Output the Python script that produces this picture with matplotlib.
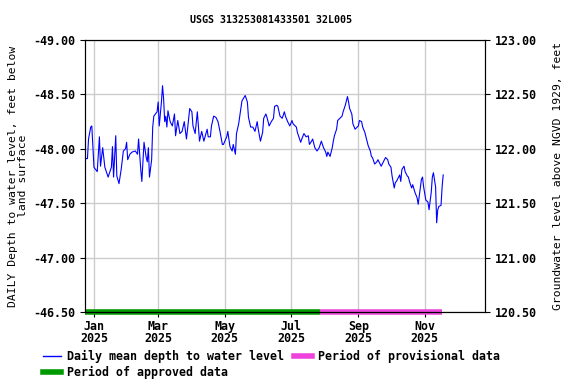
import numpy as np
import matplotlib
matplotlib.use("Agg")
import matplotlib.pyplot as plt
from matplotlib.lines import Line2D

# days after 2025-01-01 and daily mean depth (ft)
days = [-8, -6, -5, -3, -2, 0, 3, 5, 6, 8, 10, 13, 16, 17, 18, 20, 21, 23, 25, 27,
        29, 30, 31, 33, 35, 38, 40, 41, 43, 44, 46, 48, 49, 50, 51, 53, 54, 55, 58, 59,
        60, 62, 63, 64, 65, 66, 67, 68, 70, 72, 74, 75, 77, 79, 81, 83, 85, 86, 88, 90,
        91, 93, 95, 96, 97, 99, 101, 104, 105, 107, 108, 110, 112, 114, 116, 118, 119, 122, 123, 125,
        127, 128, 130, 131, 133, 135, 136, 139, 141, 142, 144, 146, 148, 150, 151, 153, 155, 156, 158, 159,
        161, 163, 165, 166, 168, 169, 171, 173, 175, 176, 178, 180, 182, 183, 186, 187, 189, 190, 191, 193,
        195, 197, 198, 200, 201, 203, 205, 207, 209, 210, 211, 213, 214, 215, 217, 219, 220, 221, 223, 224,
        226, 228, 229, 231, 233, 234, 235, 237, 238, 240, 242, 243, 244, 246, 247, 249, 251, 252, 254, 255,
        256, 258, 260, 261, 262, 264, 266, 268, 270, 271, 273, 274, 276, 277, 278, 279, 281, 282, 283, 285,
        286, 288, 289, 290, 292, 293, 295, 297, 298, 300, 301, 302, 303, 305, 307, 308, 310, 311, 312, 314,
        315, 316, 317, 319, 320, 321]
depth = [-47.91, -47.91, -48.09, -48.20, -48.21, -47.83, -47.79, -48.11, -47.84, -48.01,
         -47.83, -47.74, -47.83, -48.02, -47.74, -48.12, -47.75, -47.68, -47.81, -47.98,
         -48.00, -48.06, -47.90, -47.95, -47.97, -47.98, -47.95, -48.09, -47.81, -47.70,
         -48.06, -47.92, -47.88, -48.01, -47.74, -47.90, -48.20, -48.30, -48.34, -48.43,
         -48.21, -48.43, -48.58, -48.46, -48.25, -48.30, -48.20, -48.35, -48.25, -48.21,
         -48.32, -48.12, -48.26, -48.14, -48.16, -48.25, -48.09, -48.18, -48.37, -48.34,
         -48.21, -48.14, -48.34, -48.20, -48.07, -48.16, -48.07, -48.18, -48.11, -48.11,
         -48.21, -48.30, -48.29, -48.25, -48.15, -48.04, -48.04, -48.11, -48.16, -48.02,
         -47.98, -48.04, -47.95, -48.14, -48.23, -48.37, -48.44, -48.49, -48.43, -48.29,
         -48.20, -48.20, -48.16, -48.25, -48.18, -48.07, -48.15, -48.28, -48.32, -48.29,
         -48.21, -48.25, -48.28, -48.39, -48.40, -48.39, -48.30, -48.28, -48.34, -48.30,
         -48.25, -48.21, -48.26, -48.23, -48.20, -48.15, -48.09, -48.06, -48.09, -48.14,
         -48.11, -48.12, -48.04, -48.07, -48.09, -48.01, -47.98, -48.01, -48.07, -48.04,
         -48.01, -47.97, -47.93, -47.97, -47.93, -48.01, -48.07, -48.12, -48.18, -48.26,
         -48.28, -48.30, -48.34, -48.40, -48.48, -48.43, -48.37, -48.32, -48.23, -48.18,
         -48.20, -48.21, -48.26, -48.25, -48.20, -48.15, -48.07, -48.03, -47.98, -47.93,
         -47.92, -47.86, -47.88, -47.90, -47.88, -47.84, -47.88, -47.92, -47.90, -47.86,
         -47.83, -47.75, -47.64, -47.69, -47.70, -47.72, -47.76, -47.70, -47.81, -47.84,
         -47.79, -47.75, -47.74, -47.70, -47.64, -47.67, -47.60, -47.55, -47.49, -47.64,
         -47.72, -47.74, -47.65, -47.53, -47.51, -47.44, -47.60, -47.74, -47.78, -47.65,
         -47.32, -47.44, -47.47, -47.48, -47.65, -47.76]

approved = ("2024-12-24", "2025-07-28")
provisional = ("2025-07-28", "2025-11-17")
tick_dates = ["2025-01-01", "2025-03-01", "2025-05-01", "2025-07-01", "2025-09-01", "2025-11-01"]
tick_labels = ["Jan\n2025", "Mar\n2025", "May\n2025", "Jul\n2025", "Sep\n2025", "Nov\n2025"]
left_ticks = [-49.0, -48.5, -48.0, -47.5, -47.0, -46.5]
right_ticks = [120.5, 121.0, 121.5, 122.0, 122.5, 123.0]

dates = np.datetime64("2025-01-01") + np.array(days).astype("timedelta64[D]")

plt.rcParams["font.family"] = "DejaVu Sans Mono"
plt.rcParams["font.size"] = 8.4
plt.rcParams["font.weight"] = "bold"

fig = plt.figure(figsize=(5.76, 3.84), dpi=100)
ax = fig.add_axes([85 / 576, 1 - 312 / 384, 400 / 576, 272 / 384])

ax.plot(dates, depth, color="#0000ff", lw=0.8)
ax.plot([np.datetime64(approved[0]), np.datetime64(approved[1])], [-46.5, -46.5],
        color="#009900", lw=4, solid_capstyle="butt", clip_on=False)
ax.plot([np.datetime64(provisional[0]), np.datetime64(provisional[1])], [-46.5, -46.5],
        color="#ee44dd", lw=4, solid_capstyle="butt", clip_on=False)

ax.set_xlim(np.datetime64("2024-12-23T18"), np.datetime64("2025-12-26T10"))
ax.set_ylim(-46.5, -49.0)
ax.set_yticks(left_ticks)
ax.yaxis.set_major_formatter(matplotlib.ticker.FormatStrFormatter("%.2f"))
ax.set_xticks([np.datetime64(d) for d in tick_dates])
ax.set_xticklabels(tick_labels, linespacing=0.95)
ax.tick_params(axis="x", pad=2)
ax.grid(color="#cccccc", lw=1)
ax.set_ylabel("DAILY Depth to water level, feet below\nland surface", fontsize=8.2,
              linespacing=0.95)
fig.text(271 / 576, 1 - 20 / 384, "USGS 313253081433501 32L005", fontsize=7.2,
         ha="center", va="center")

ax2 = ax.twinx()
ax2.set_ylim(120.5, 123.0)
ax2.set_yticks(right_ticks)
ax2.yaxis.set_major_formatter(matplotlib.ticker.FormatStrFormatter("%.2f"))
ax2.set_ylabel("Groundwater level above NGVD 1929, feet", fontsize=8.2, labelpad=12)

handles = [Line2D([], [], color="#0000ff", lw=1),
           Line2D([], [], color="#009900", lw=4),
           Line2D([], [], color="#ee44dd", lw=4)]
labels = ["Daily mean depth to water level", "Period of approved data",
          "Period of provisional data"]
fig.legend(handles, labels, ncol=2, loc="upper left", bbox_to_anchor=(0.064, 0.103),
           frameon=False, handlelength=1.6, columnspacing=0.8, handletextpad=0.5,
           labelspacing=0.25, borderpad=0)

fig.savefig("out.png", dpi=100)
